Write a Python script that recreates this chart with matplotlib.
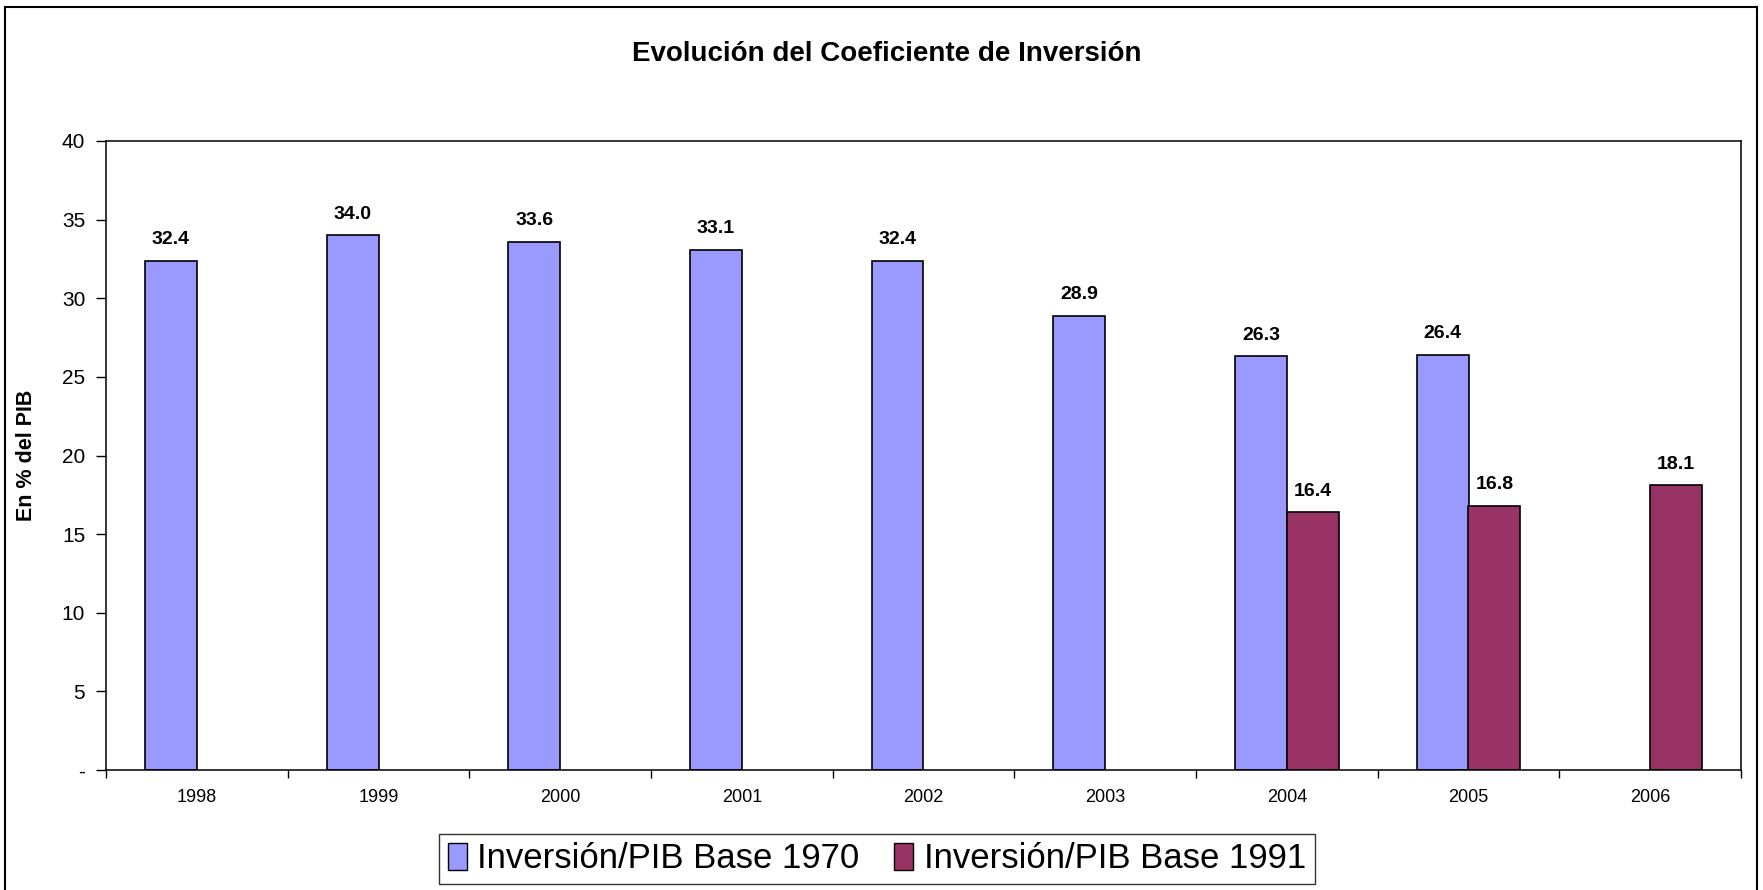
import numpy as np
import matplotlib.pyplot as plt
from matplotlib.patches import Rectangle, Patch

years = ["1998", "1999", "2000", "2001", "2002", "2003", "2004", "2005", "2006"]
base_1970 = [32.4, 34.0, 33.6, 33.1, 32.4, 28.9, 26.3, 26.4, np.nan]
base_1991 = [np.nan, np.nan, np.nan, np.nan, np.nan, np.nan, 16.4, 16.8, 18.1]
series_names = ["Inversión/PIB Base 1970", "Inversión/PIB Base 1991"]
yticks = [0, 5, 10, 15, 20, 25, 30, 35, 40]
ytick_labels = ["-", "5", "10", "15", "20", "25", "30", "35", "40"]

plt.rcParams['font.family'] = ['Liberation Sans', 'DejaVu Sans']

fig = plt.figure(figsize=(17.63, 8.9), dpi=100)
W, H = 1763, 890
ax = fig.add_axes([106 / W, 1 - 770 / H, (1741 - 106) / W, (770 - 141) / H])

x = np.arange(len(years))
w = 0.285
c1, c2 = "#9999FF", "#993366"
ax.bar(x - w / 2, base_1970, w, color=c1, edgecolor="black", linewidth=1.2)
ax.bar(x + w / 2, base_1991, w, color=c2, edgecolor="black", linewidth=1.2)

for xs, vals in ((x - w / 2, base_1970), (x + w / 2, base_1991)):
    for xi, v in zip(xs, vals):
        if np.isnan(v):
            continue
        ax.annotate(f"{v:.1f}", (xi, v), xytext=(0, 9), textcoords="offset points",
                    ha="center", va="bottom", fontsize=14, fontweight="bold")

ax.set_xlim(-0.5, len(years) - 0.5)
ax.set_ylim(0, 40)
ax.set_yticks(yticks)
ax.set_yticklabels(ytick_labels, fontsize=15)
ax.set_xticks(x)
ax.set_xticklabels(years, fontsize=13)
ax.set_xticks(np.arange(len(years) + 1) - 0.5, minor=True)
ax.tick_params(axis="x", which="major", length=0, pad=14)
ax.tick_params(axis="x", which="minor", length=6, width=1, direction="out")
ax.tick_params(axis="y", length=7, width=1, pad=8)
for s in ax.spines.values():
    s.set_linewidth(1.1)

ax.set_ylabel("En % del PIB", fontsize=15.5, fontweight="bold", labelpad=18)
fig.text(0.5 + 5 / W, 1 - 54 / H, "Evolución del Coeficiente de Inversión",
         ha="center", va="center", fontsize=20, fontweight="bold")

handles = [Patch(facecolor=c1, edgecolor="black"), Patch(facecolor=c2, edgecolor="black")]
leg = fig.legend(handles, series_names, loc="center", bbox_to_anchor=(877 / W, 1 - 859 / H),
                 ncol=2, fontsize=25, frameon=True, fancybox=False, edgecolor="black",
                 handlelength=0.55, handleheight=0.8, handletextpad=0.3, columnspacing=1.0,
                 borderpad=0.25)
leg.get_frame().set_linewidth(1.0)

fig.patches.append(Rectangle((5 / W, -0.05), (1757 - 5) / W, 1.05 - 7 / H,
                             transform=fig.transFigure, fill=False,
                             edgecolor="black", linewidth=1.5))

fig.savefig("out.png", dpi=100)
